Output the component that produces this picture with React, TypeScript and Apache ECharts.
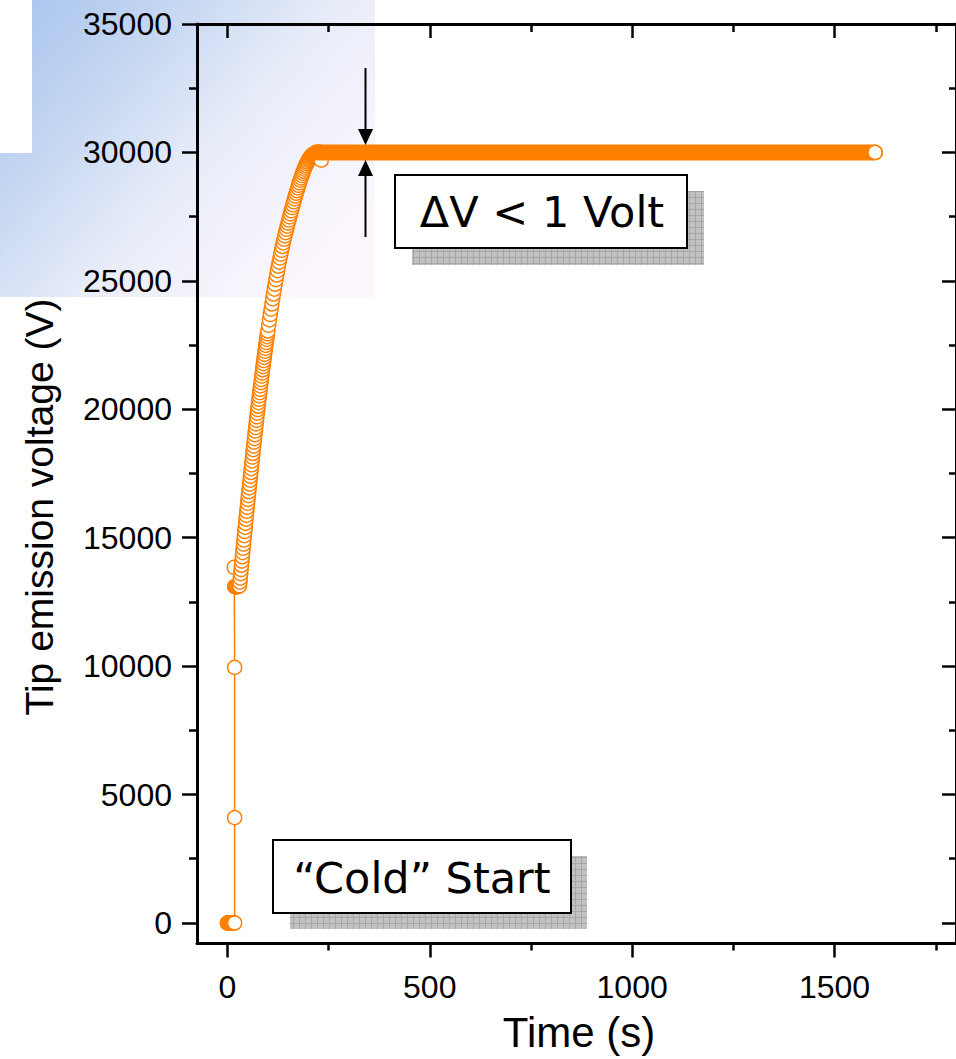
import React, { useEffect, useRef } from 'react';
import * as echarts from 'echarts';

// Axis ticks
const majorX = [0, 500, 1000, 1500];
const minorX = [250, 750, 1250, 1750];
const majorY = [0, 5000, 10000, 15000, 20000, 25000, 30000, 35000];
const minorY = [2500, 7500, 12500, 17500, 22500, 27500, 32500];

// "Cold" start: time (s), voltage (V)
const startPoints: [number, number][] = [
  [0, 0], [2, 0], [4, 0], [6, 0], [8, 0], [10, 0], [12, 0], [14, 0], [16, 0], [18, 0],
  [18, 4100], [18, 9950], [17, 13850], [18, 13100], [20, 13080], [22, 13100],
  [24, 13090], [26, 13100], [28, 13110], [30, 13130],
];

// Ramp up
const risePoints: [number, number][] = [
  [31, 13270], [32, 13430], [33, 13600], [34, 13760], [35, 13930], [36, 14090], [37, 14260],
  [38, 14420], [39, 14590], [40, 14750], [41, 14910], [42, 15080], [43, 15240], [44, 15400],
  [45, 15560], [46, 15720], [47, 15870], [48, 16030], [49, 16180], [50, 16340], [51, 16490],
  [52, 16640], [53, 16790], [54, 16940], [55, 17090], [56, 17240], [57, 17390], [58, 17540],
  [59, 17690], [60, 17840], [61, 17990], [62, 18140], [63, 18280], [64, 18430], [65, 18570],
  [66, 18720], [67, 18860], [68, 19010], [69, 19150], [70, 19290], [71, 19430], [72, 19570],
  [73, 19710], [74, 19850], [75, 19990], [76, 20120], [77, 20260], [78, 20390], [79, 20520],
  [80, 20650], [81, 20780], [82, 20910], [83, 21040], [84, 21160], [85, 21290], [86, 21410],
  [87, 21540], [88, 21660], [89, 21780], [90, 21900], [91, 22020], [92, 22140], [93, 22260],
  [94, 22370], [95, 22490], [96, 22600], [97, 22720], [98, 22830], [99, 22940], [100, 23050],
  [102, 23270], [104, 23480], [106, 23690], [108, 23900], [110, 24100], [112, 24300],
  [114, 24490], [116, 24680], [118, 24870], [120, 25050], [122, 25230], [124, 25400],
  [126, 25570], [128, 25730], [130, 25890], [132, 26040], [134, 26190], [136, 26340],
  [138, 26480], [140, 26620], [142, 26750], [144, 26880], [146, 27010], [148, 27130],
  [150, 27250], [152, 27370], [154, 27490], [156, 27610], [158, 27730], [160, 27850],
  [162, 27960], [164, 28080], [166, 28190], [168, 28300], [170, 28410], [172, 28510],
  [174, 28620], [176, 28720], [178, 28820], [180, 28920], [182, 29010], [184, 29100],
  [186, 29190], [188, 29270], [190, 29350], [192, 29430], [194, 29500], [196, 29570],
  [198, 29630], [200, 29690], [202, 29740], [204, 29790], [206, 29830], [208, 29870],
  [210, 29900], [212, 29930], [214, 29950], [216, 29970], [218, 29980], [220, 29990],
  [222, 30000], [224, 30000], [226, 30000], [228, 30000], [232, 29700],
];

// Stable plateau (densely sampled, drawn as a band of overlapping markers)
const plateauSpan: [number, number][] = [[220, 30000], [1600, 30000]];
const endPoint: [number, number][] = [[1600, 30000]];

const ORANGE = '#ff8000';

export default function App() {
  const ref = useRef<HTMLDivElement>(null);

  useEffect(() => {
    if (!ref.current) return;
    const chart = echarts.init(ref.current, null, { renderer: 'svg' });

    const cv = document.createElement('canvas');
    cv.width = 6;
    cv.height = 6;
    const ctx = cv.getContext('2d');
    if (ctx) {
      ctx.fillStyle = '#c2c2c2';
      ctx.fillRect(0, 0, 6, 6);
      ctx.fillStyle = '#a6a6a6';
      ctx.fillRect(5, 0, 1, 6);
      ctx.fillRect(0, 5, 6, 1);
    }
    const hatch: any = { image: cv, repeat: 'repeat' };

    const axisFont = { fontFamily: 'Liberation Sans, Arial, sans-serif', fontSize: 32, color: '#000' };
    const axLine = { color: '#000', width: 3 };
    const tickLine = { color: '#000', width: 2.5 };
    const xBase = { type: 'value', min: -75, max: 1800, splitLine: { show: false } };
    const yBase = { type: 'value', min: -800, max: 35000, splitLine: { show: false } };

    const option: any = {
      animation: false,
      grid: { left: 197, right: -6, top: 24, bottom: 115.5, containLabel: false },
      xAxis: [
        {
          ...xBase, position: 'bottom',
          axisLine: { show: true, onZero: false, lineStyle: axLine },
          axisTick: { show: true, inside: false, length: 14, lineStyle: tickLine, customValues: majorX },
          axisLabel: { show: true, margin: 27, customValues: majorX, formatter: (v: number) => String(v), ...axisFont },
        },
        {
          ...xBase, position: 'bottom',
          axisLine: { show: false, onZero: false },
          axisTick: { show: true, inside: false, length: 7, lineStyle: tickLine, customValues: minorX },
          axisLabel: { show: false },
        },
        {
          ...xBase, position: 'top',
          axisLine: { show: true, onZero: false, lineStyle: axLine },
          axisTick: { show: true, inside: true, length: 14, lineStyle: tickLine, customValues: majorX },
          axisLabel: { show: false },
        },
        {
          ...xBase, position: 'top',
          axisLine: { show: false, onZero: false },
          axisTick: { show: true, inside: true, length: 8, lineStyle: tickLine, customValues: minorX },
          axisLabel: { show: false },
        },
      ],
      yAxis: [
        {
          ...yBase, position: 'left',
          axisLine: { show: true, onZero: false, lineStyle: axLine },
          axisTick: { show: true, inside: false, length: 15, lineStyle: tickLine, customValues: majorY },
          axisLabel: { show: true, margin: 25, customValues: majorY, formatter: (v: number) => String(v), ...axisFont },
        },
        {
          ...yBase, position: 'left',
          axisLine: { show: false, onZero: false },
          axisTick: { show: true, inside: false, length: 8, lineStyle: tickLine, customValues: minorY },
          axisLabel: { show: false },
        },
        {
          ...yBase, position: 'right',
          axisLine: { show: true, onZero: false, lineStyle: axLine },
          axisTick: { show: true, inside: true, length: 14, lineStyle: tickLine, customValues: majorY },
          axisLabel: { show: false },
        },
        {
          ...yBase, position: 'right',
          axisLine: { show: false, onZero: false },
          axisTick: { show: true, inside: true, length: 7, lineStyle: tickLine, customValues: minorY },
          axisLabel: { show: false },
        },
      ],
      series: [
        {
          type: 'line',
          name: 'Tip emission voltage',
          data: [...startPoints, ...risePoints],
          xAxisIndex: 0,
          yAxisIndex: 0,
          symbol: 'circle',
          symbolSize: 14,
          showSymbol: true,
          showAllSymbol: true,
          silent: true,
          z: 2,
          itemStyle: { color: '#fff', borderColor: ORANGE, borderWidth: 1.5 },
          lineStyle: { color: ORANGE, width: 1.5 },
          emphasis: { disabled: true },
        },
        {
          type: 'line',
          name: 'plateau',
          data: plateauSpan,
          xAxisIndex: 0,
          yAxisIndex: 0,
          symbol: 'none',
          silent: true,
          z: 3,
          lineStyle: { color: ORANGE, width: 16, cap: 'round' },
          emphasis: { disabled: true },
        },
        {
          type: 'scatter',
          name: 'end',
          data: endPoint,
          xAxisIndex: 0,
          yAxisIndex: 0,
          symbol: 'circle',
          symbolSize: 14,
          silent: true,
          z: 4,
          itemStyle: { color: '#fff', borderColor: ORANGE, borderWidth: 1.5, opacity: 1 },
          emphasis: { disabled: true },
        },
      ],
      graphic: [
        {
          type: 'rect', z: -100, silent: true,
          shape: { x: 0, y: 0, width: 375, height: 297 },
          style: {
            fill: new echarts.graphic.LinearGradient(0, 0, 1, 0.7, [
              { offset: 0, color: '#a6c4ee' },
              { offset: 0.3, color: '#c3d5f1' },
              { offset: 0.62, color: '#e9edf9' },
              { offset: 1, color: '#fdf7fd' },
            ]),
          },
        },
        { type: 'rect', z: -99, silent: true, shape: { x: 0, y: 0, width: 32, height: 153 }, style: { fill: '#ffffff' } },
        // Axis titles
        {
          type: 'text', z: 50, x: 39, y: 507, rotation: Math.PI / 2,
          style: {
            text: 'Tip emission voltage (V)', fill: '#000',
            font: '39px "Liberation Sans", Arial, sans-serif',
            textAlign: 'center', textVerticalAlign: 'middle',
          },
        },
        {
          type: 'text', z: 50, x: 579, y: 1032,
          style: {
            text: 'Time (s)', fill: '#000',
            font: '42px "Liberation Sans", Arial, sans-serif',
            textAlign: 'center', textVerticalAlign: 'middle',
          },
        },
        // ΔV annotation arrows
        { type: 'line', z: 60, shape: { x1: 365.5, y1: 68, x2: 365.5, y2: 131 }, style: { stroke: '#000', lineWidth: 2 } },
        { type: 'polygon', z: 60, shape: { points: [[358, 129], [373, 129], [365.5, 145]] }, style: { fill: '#000' } },
        { type: 'line', z: 60, shape: { x1: 365.5, y1: 174, x2: 365.5, y2: 237 }, style: { stroke: '#000', lineWidth: 2 } },
        { type: 'polygon', z: 60, shape: { points: [[358, 176], [373, 176], [365.5, 160]] }, style: { fill: '#000' } },
        // ΔV box
        { type: 'rect', z: 60, shape: { x: 412, y: 191, width: 292, height: 74 }, style: { fill: hatch } },
        { type: 'rect', z: 61, shape: { x: 395, y: 175, width: 292, height: 73 }, style: { fill: '#fff', stroke: '#000', lineWidth: 2 } },
        {
          type: 'text', z: 62, x: 542, y: 212,
          style: {
            text: 'ΔV < 1 Volt', fill: '#000',
            font: '43px "DejaVu Sans", Verdana, sans-serif',
            textAlign: 'center', textVerticalAlign: 'middle',
          },
        },
        // Cold start box
        { type: 'rect', z: 60, shape: { x: 290, y: 856, width: 297, height: 73 }, style: { fill: hatch } },
        { type: 'rect', z: 61, shape: { x: 273, y: 840, width: 298, height: 73 }, style: { fill: '#fff', stroke: '#000', lineWidth: 2 } },
        {
          type: 'text', z: 62, x: 422, y: 878,
          style: {
            text: '\u201CCold\u201D Start', fill: '#000',
            font: '43px "DejaVu Sans", Verdana, sans-serif',
            textAlign: 'center', textVerticalAlign: 'middle',
          },
        },
      ],
    };

    chart.setOption(option);
    return () => chart.dispose();
  }, []);

  return (
    <div
      ref={ref}
      style={{ position: 'absolute', left: 0, top: 0, width: 956, height: 1059, background: '#fff' }}
    />
  );
}
